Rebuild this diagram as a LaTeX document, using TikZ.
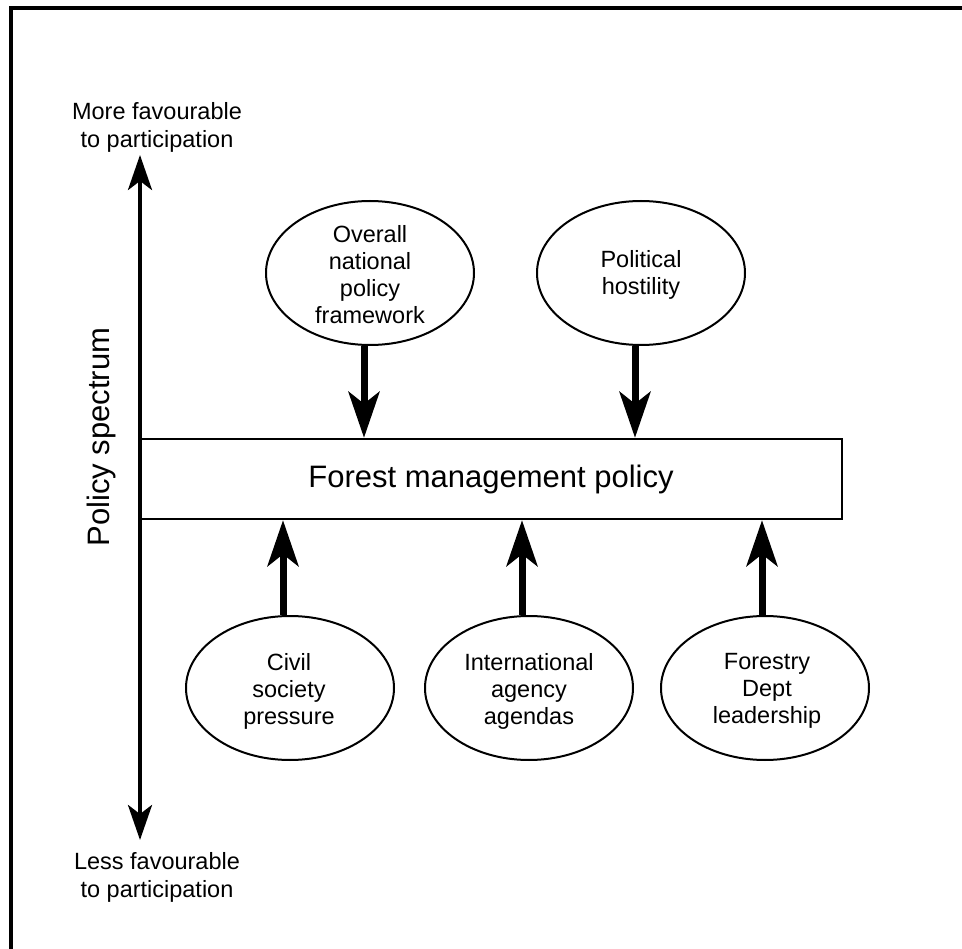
\documentclass[tikz,border=0pt]{standalone}
\usepackage{fontspec}
\setmainfont{Liberation Sans}
\usetikzlibrary{shapes.geometric,arrows.meta}
\begin{document}
\begin{tikzpicture}[x=1pt,y=-1pt,
  factor/.style={draw, ellipse, line width=2pt, minimum width=208pt, minimum height=144pt, inner sep=0pt},
  ftext/.style={font=\fontsize{23.5}{27}\selectfont, align=center, inner sep=0pt},
  sidetext/.style={font=\fontsize{23.5}{28}\selectfont, align=center, inner sep=0pt},
  bigarrow/.style={line width=7pt, -{Stealth[length=46pt, width=31pt, inset=12pt]}},
  axisarrow/.style={line width=4pt, {Stealth[length=35pt, width=24pt, inset=9pt]}-{Stealth[length=35pt, width=24pt, inset=9pt]}},
  frameline/.style={line width=3.5pt}
]
\useasboundingbox (0,0) rectangle (962,949);
% frame (only top and left edges visible)
\coordinate (fbl) at (11,949);
\coordinate (ftl) at (11,8);
\coordinate (ftr) at (962,8);
\draw[frameline] (fbl) -- (ftl) -- (ftr);

% central box
\node[draw, line width=2.4pt, minimum width=702pt, minimum height=80pt, inner sep=0pt,
      font=\fontsize{31}{36}\selectfont] (fm) at (491,479) {Forest management policy};

% axis
\coordinate (axtop) at (140,155);
\coordinate (axbot) at (140,840);
\draw[axisarrow] (axbot) -- (axtop);
\node[sidetext] (more) at (157,127) {More favourable\\to participation};
\node[sidetext] (less) at (157,877) {Less favourable\\to participation};
\node[rotate=90, font=\fontsize{31}{36}\selectfont, inner sep=0pt] (ps) at (101,437) {Policy spectrum};

% top factors
\node[factor] (e1) at (370,273) {};
\node[ftext] (t1) at (370,275) {Overall\\national\\policy\\framework};
\node[factor] (e2) at (641,273) {};
\node[ftext] (t2) at (641,275) {Political\\hostility};

% bottom factors
\node[factor] (e3) at (290,688) {};
\node[ftext] (t3) at (289,691) {Civil\\society\\pressure};
\node[factor] (e4) at (529,688) {};
\node[ftext] (t4) at (529,691) {International\\agency\\agendas};
\node[factor] (e5) at (765,688) {};
\node[ftext] (t5) at (767,691) {Forestry\\Dept\\leadership};

% arrows
\draw[bigarrow] ([xshift=-6pt]e1.south) -- ([xshift=-6pt]e1.south |- fm.north);
\draw[bigarrow] ([xshift=-6pt]e2.south) -- ([xshift=-6pt]e2.south |- fm.north);
\draw[bigarrow] ([xshift=-7pt]e3.north) -- ([xshift=-7pt]e3.north |- fm.south);
\draw[bigarrow] ([xshift=-7pt]e4.north) -- ([xshift=-7pt]e4.north |- fm.south);
\draw[bigarrow] ([xshift=-3pt]e5.north) -- ([xshift=-3pt]e5.north |- fm.south);
\end{tikzpicture}
\end{document}
